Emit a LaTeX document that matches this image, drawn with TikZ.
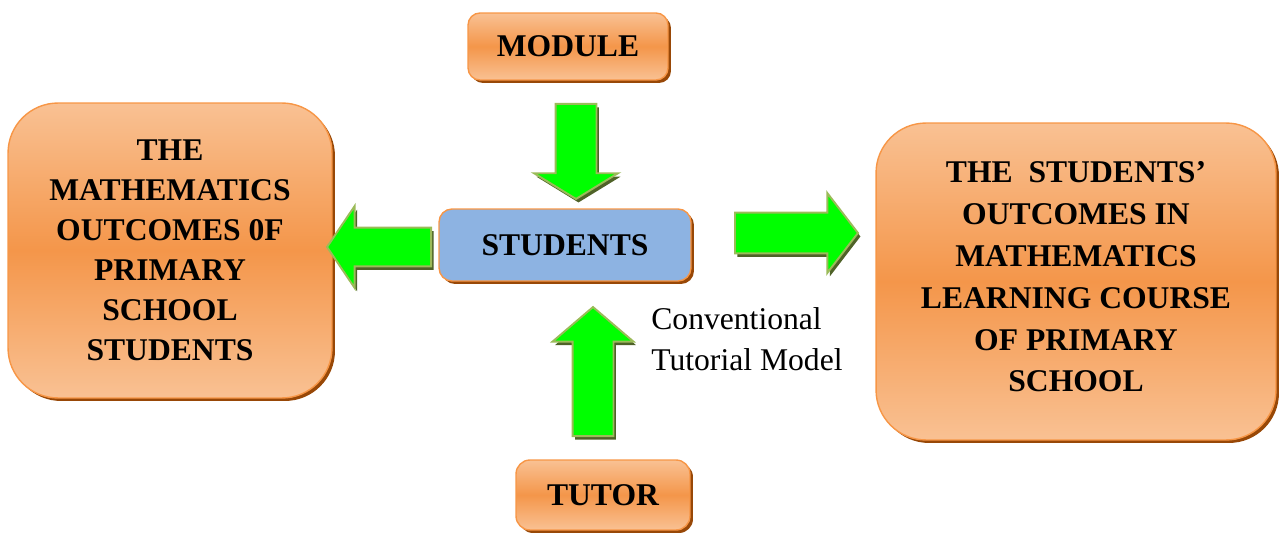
\documentclass[tikz,border=0pt]{standalone}
\usepackage{fontspec}
\setmainfont{Liberation Serif}
\usetikzlibrary{shapes.arrows}
\usetikzlibrary{shadows}

\definecolor{boxline}{HTML}{F79646}
\definecolor{boxlight}{HTML}{F9C193}
\definecolor{boxmid}{HTML}{F4964A}
\definecolor{boxshadow}{HTML}{984807}
\definecolor{studfill}{HTML}{8DB3E2}
\definecolor{arrfill}{HTML}{00FF00}
\definecolor{arrline}{HTML}{9BBB59}
\definecolor{arrshadow}{HTML}{4F6228}

\tikzset{
  basebox/.style={draw=boxline, line width=0.8pt, rounded corners=#1, inner sep=0pt, align=center,
    drop shadow={shadow xshift=0.06cm, shadow yshift=-0.06cm, fill=boxshadow, opacity=1},
    font=\fontsize{18}{23.5}\selectfont\bfseries},
  orangebox/.style={basebox=#1, top color=boxlight, bottom color=boxlight, middle color=boxmid},
  greenarrow/.style={single arrow, draw=arrline, line width=1.1pt, fill=arrfill, inner xsep=0pt,
    single arrow head indent=0pt,
    drop shadow={shadow xshift=0.05cm, shadow yshift=-0.07cm, fill=arrshadow, opacity=1}},
  blockarr/.style n args={4}{minimum height=#1, inner ysep=#2,
    single arrow head extend=#3, single arrow tip angle=#4}
}

\begin{document}
\begin{tikzpicture}[x=0.02cm, y=-0.02cm]
      \useasboundingbox (0, 0) rectangle (1280, 533);
      \node[orangebox=0.24cm, minimum width=4cm, minimum height=1.34cm] (module) at (568, 46.5) {MODULE};
      \node[basebox=0.26cm, fill=studfill, minimum width=5.04cm, minimum height=1.44cm] (students) at (565, 245) {STUDENTS};
      \node[orangebox=0.28cm, minimum width=3.48cm, minimum height=1.4cm] (tutor) at (603, 495) {TUTOR};
      \node[orangebox=1cm, minimum width=6.48cm, minimum height=5.9cm, font=\fontsize{18}{22.8}\selectfont\bfseries] (primary) at (170, 250.5)
        {THE\\MATHEMATICS\\OUTCOMES 0F\\PRIMARY\\SCHOOL\\STUDENTS};
      \node[orangebox=1cm, minimum width=8cm, minimum height=6.34cm, text depth=0.2cm, font=\fontsize{18}{23.9}\selectfont\bfseries] (course) at (1076, 281.5)
        {THE\ \ STUDENTS'\\OUTCOMES IN\\MATHEMATICS\\LEARNING COURSE\\OF PRIMARY\\SCHOOL};
      \node[greenarrow, blockarr={1.9cm}{0.39cm}{0.43cm}{117}, rotate=-90, anchor=tail] (moddown) at (576, 103) {};
      \node[greenarrow, blockarr={2.08cm}{0.37cm}{0.43cm}{112}, rotate=180, anchor=tail] (studleft) at (432, 247) {};
      \node[greenarrow, blockarr={2.46cm}{0.39cm}{0.39cm}{105}, anchor=tail] (studright) at (734, 233) {};
      \node[greenarrow, blockarr={2.58cm}{0.39cm}{0.4cm}{99}, rotate=90, anchor=tail] (tutup) at (593, 437) {};
      \node[anchor=north west, inner sep=0pt, align=left, font=\fontsize{18}{23.3}\selectfont] (model) at (651, 307)
        {Conventional\\Tutorial Model};
    \end{tikzpicture}
\end{document}
